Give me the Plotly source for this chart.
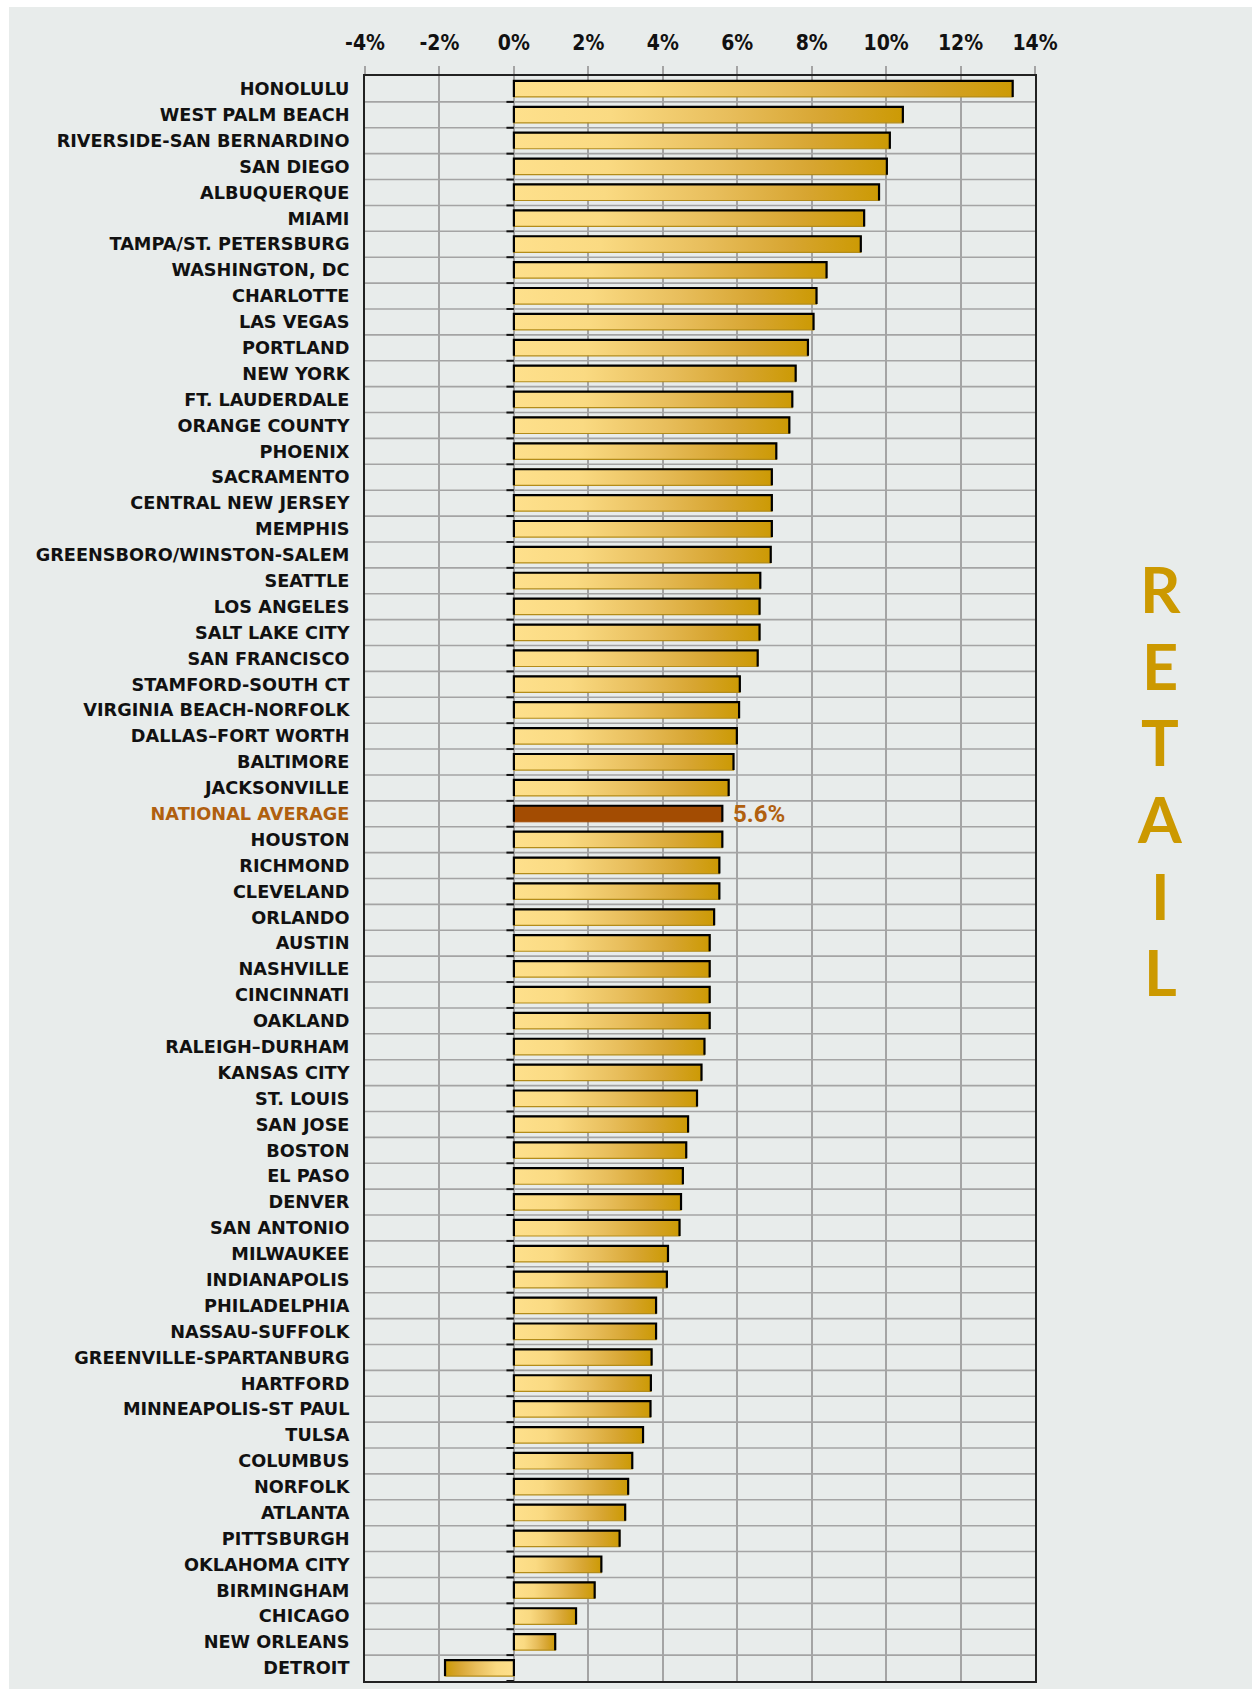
import plotly.graph_objects as go

# ---------------- data ----------------
cities = [
    "HONOLULU", "WEST PALM BEACH", "RIVERSIDE-SAN BERNARDINO", "SAN DIEGO",
    "ALBUQUERQUE", "MIAMI", "TAMPA/ST. PETERSBURG", "WASHINGTON, DC",
    "CHARLOTTE", "LAS VEGAS", "PORTLAND", "NEW YORK", "FT. LAUDERDALE",
    "ORANGE COUNTY", "PHOENIX", "SACRAMENTO", "CENTRAL NEW JERSEY", "MEMPHIS",
    "GREENSBORO/WINSTON-SALEM", "SEATTLE", "LOS ANGELES", "SALT LAKE CITY",
    "SAN FRANCISCO", "STAMFORD-SOUTH CT", "VIRGINIA BEACH-NORFOLK",
    "DALLAS–FORT WORTH", "BALTIMORE", "JACKSONVILLE", "NATIONAL AVERAGE",
    "HOUSTON", "RICHMOND", "CLEVELAND", "ORLANDO", "AUSTIN", "NASHVILLE",
    "CINCINNATI", "OAKLAND", "RALEIGH–DURHAM", "KANSAS CITY", "ST. LOUIS",
    "SAN JOSE", "BOSTON", "EL PASO", "DENVER", "SAN ANTONIO", "MILWAUKEE",
    "INDIANAPOLIS", "PHILADELPHIA", "NASSAU-SUFFOLK", "GREENVILLE-SPARTANBURG",
    "HARTFORD", "MINNEAPOLIS-ST PAUL", "TULSA", "COLUMBUS", "NORFOLK",
    "ATLANTA", "PITTSBURGH", "OKLAHOMA CITY", "BIRMINGHAM", "CHICAGO",
    "NEW ORLEANS", "DETROIT",
]
values = [
    13.4, 10.45, 10.1, 10.02,
    9.81, 9.41, 9.32, 8.4,
    8.13, 8.05, 7.9, 7.57, 7.48,
    7.4, 7.05, 6.93, 6.93, 6.93,
    6.9, 6.62, 6.6, 6.6,
    6.55, 6.07, 6.05,
    5.99, 5.9, 5.77, 5.6,
    5.6, 5.52, 5.52, 5.38, 5.26, 5.26,
    5.26, 5.26, 5.12, 5.04, 4.92,
    4.68, 4.63, 4.54, 4.49, 4.45, 4.14,
    4.11, 3.82, 3.82, 3.7,
    3.68, 3.67, 3.47, 3.18, 3.07,
    2.99, 2.84, 2.35, 2.17, 1.67,
    1.11, -1.85,
]
x_tick_vals = [-4, -2, 0, 2, 4, 6, 8, 10, 12, 14]
x_tick_text = ["-4%", "-2%", "0%", "2%", "4%", "6%", "8%", "10%", "12%", "14%"]
highlight = "NATIONAL AVERAGE"
panel_title = "RETAIL"

# ---------------- styles ----------------
BG = "#E8ECEB"
GRID = "#A4A4A4"
GOLD_SCALE = [[0.0, "#FEE08C"], [0.25, "#FADA82"], [0.55, "#E8BE5C"],
              [0.8, "#D7A531"], [1.0, "#CC9A04"]]
AVG_FILL = "#A34C02"
AVG_TEXT = "#B0600F"
TITLE_COLOR = "#CC9900"
XMIN, XMAX = x_tick_vals[0], x_tick_vals[-1]
HALF = 0.31

W, H = 1252, 1689
ML, MR, MT, MB = 365, 217, 76, 6

n = len(cities)
fig = go.Figure()

# horizontal grid lines at category boundaries
gx, gy = [], []
for k in range(1, n):
    b = k - 0.5
    gx += [XMIN, XMAX, None]
    gy += [b, b, None]
fig.add_trace(go.Scatter(x=gx, y=gy, mode="lines",
                         line=dict(color=GRID, width=1.6),
                         hoverinfo="skip", showlegend=False))

# bars
for i, (c, v) in enumerate(zip(cities, values)):
    xs = [0, v, v, 0, 0]
    ys = [i - HALF, i - HALF, i + HALF, i + HALF, i - HALF]
    if c == highlight:
        fig.add_trace(go.Scatter(x=xs, y=ys, mode="lines", fill="toself",
                                 fillcolor=AVG_FILL,
                                 line=dict(width=1, color=AVG_FILL),
                                 hoverinfo="skip", showlegend=False))
    else:
        cs = GOLD_SCALE if v >= 0 else [[1 - p, col] for p, col in reversed(GOLD_SCALE)]
        fig.add_trace(go.Scatter(x=xs, y=ys, mode="lines", fill="toself",
                                 fillgradient=dict(type="horizontal", colorscale=cs),
                                 line=dict(width=1.2, color="#B38C1A"),
                                 hoverinfo="skip", showlegend=False))

# bar outlines (left, top, right edges)
ox, oy = [], []
for i, v in enumerate(values):
    ox += [0, 0, v, v, None]
    oy += [i + HALF, i - HALF, i - HALF, i + HALF, None]
fig.add_trace(go.Scatter(x=ox, y=oy, mode="lines",
                         line=dict(color="#000000", width=2.2),
                         hoverinfo="skip", showlegend=False))

# small ticks at zero on category boundaries
tx, ty = [], []
for k in range(1, n + 1):
    b = k - 0.5
    tx += [-0.2, 0, None]
    ty += [b, b, None]
fig.add_trace(go.Scatter(x=tx, y=ty, mode="lines",
                         line=dict(color="#111111", width=2),
                         hoverinfo="skip", showlegend=False))

# national average value label
ai = cities.index(highlight)
fig.add_annotation(x=values[ai], y=ai, text=f"{values[ai]:.1f}%", showarrow=False,
                   xanchor="left", xshift=9,
                   font=dict(family="Roboto", size=24, color=AVG_TEXT, weight="bold"))

# y tick labels
ticktext = [f'<span style="color:{AVG_TEXT}">{c}</span>' if c == highlight else c
            for c in cities]

# vertical title letters
pw = W - ML - MR
ph = H - MT - MB
cx = (1160 - ML) / pw
y_first = (H - MB - 589) / ph
step = 76.8 / ph
for k, ch in enumerate(panel_title):
    fig.add_annotation(x=cx, y=y_first - k * step, xref="paper", yref="paper",
                       text=ch, showarrow=False, xanchor="center", yanchor="middle",
                       font=dict(family="Lato", size=63, color=TITLE_COLOR, weight="bold"))

# white outer strips (top & left)
fig.add_shape(type="rect", xref="paper", yref="paper", layer="below",
              x0=-ML / pw - 0.01, x1=(W - ML) / pw + 0.01,
              y0=(H - MB - 7) / ph, y1=(H - MB) / ph + 0.01,
              fillcolor="white", line_width=0)
fig.add_shape(type="rect", xref="paper", yref="paper", layer="below",
              x0=-ML / pw - 0.01, x1=(9 - ML) / pw,
              y0=-MB / ph - 0.01, y1=(H - MB) / ph + 0.01,
              fillcolor="white", line_width=0)

fig.update_layout(
    width=W, height=H,
    margin=dict(l=ML, r=MR, t=MT, b=MB, pad=0),
    paper_bgcolor=BG, plot_bgcolor=BG,
    showlegend=False,
)
fig.update_xaxes(
    side="top", range=[XMIN, XMAX],
    tickmode="array", tickvals=x_tick_vals, ticktext=x_tick_text,
    showgrid=True, gridcolor=GRID, gridwidth=1.5, zeroline=False,
    showline=True, mirror=True, linecolor="#222222", linewidth=2,
    ticks="outside", ticklen=8, tickcolor=GRID, tickwidth=1.5,
    ticklabelstandoff=8,
    tickfont=dict(family="DejaVu Sans Condensed", size=21, color="#111111", weight="bold"),
)
fig.update_yaxes(
    range=[n - 0.5, -0.5],
    tickmode="array", tickvals=list(range(n)), ticktext=ticktext,
    showgrid=False, zeroline=False,
    showline=True, mirror=True, linecolor="#222222", linewidth=2,
    ticks="", ticklabelstandoff=10,
    tickfont=dict(family="DejaVu Sans", size=17.7, color="#111111", weight="bold"),
)

fig.write_html(
    "out.html",
    config={"displayModeBar": False},
    post_script="document.body.style.margin='0';document.body.style.overflow='hidden';",
)
